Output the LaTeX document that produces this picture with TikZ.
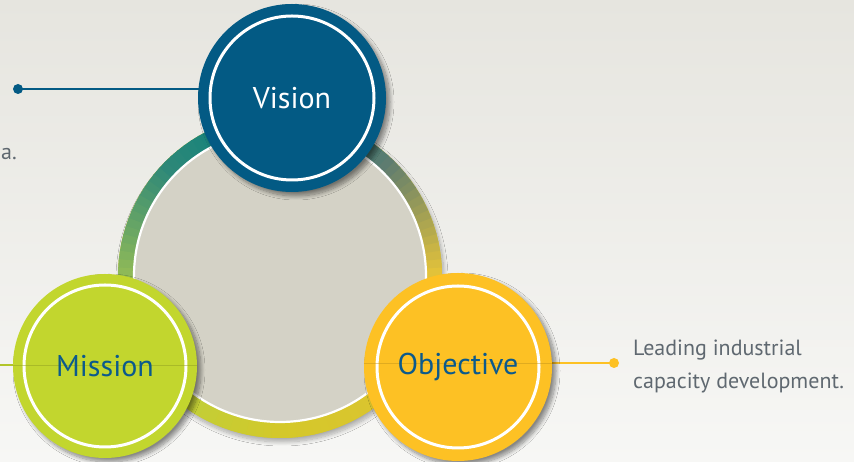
\documentclass[tikz,border=0pt]{standalone}
\usepackage{fontspec}
\setmainfont{PT Sans}
\usetikzlibrary{shadows.blur}
\definecolor{bgtop}{HTML}{E6E5DF}
\definecolor{bgbot}{HTML}{F7F7F5}
\definecolor{visionblue}{HTML}{035A84}
\definecolor{missiongreen}{HTML}{C2D62E}
\definecolor{objgold}{HTML}{FDC124}
\definecolor{hubgray}{HTML}{D4D2C6}
\definecolor{labelblue}{HTML}{0B5A8C}
\definecolor{bodygray}{HTML}{5F6870}
% ring colour stops, every 45 degrees
\definecolor{r0}{HTML}{E2C23A}
\definecolor{r45}{HTML}{5E7C70}
\definecolor{r90}{HTML}{007F7F}
\definecolor{r135}{HTML}{2E8878}
\definecolor{r180}{HTML}{94BC56}
\definecolor{r225}{HTML}{BDD03A}
\definecolor{r270}{HTML}{D4C82A}
\definecolor{r315}{HTML}{DCC430}
\tikzset{
  bubble/.style={circle, inner sep=0pt, minimum size=#1,
    blur shadow={shadow xshift=4pt, shadow yshift=-4pt, shadow blur radius=4pt, shadow blur steps=10, shadow opacity=45}},
  bubbletext/.style={font=\fontsize{30}{30}\selectfont},
  leader/.style={line width=2.2pt},
  leaderdot/.style={circle, inner sep=0pt, minimum size=10pt},
  bodytext/.style={font=\fontsize{22}{33}\selectfont, text=bodygray, inner sep=0pt}
}
\begin{document}
\begin{tikzpicture}[x=1pt,y=1pt]
  % page background
  \shade[top color=bgtop, bottom color=bgbot] (0,0) rectangle (854,462);
  \useasboundingbox (0,0) rectangle (854,462);

  % outer ring of the hub
  \coordinate (hubc) at (280,186);
  \fill[r270, blur shadow={shadow xshift=2pt, shadow yshift=-4pt, shadow blur radius=4pt, shadow blur steps=10, shadow opacity=30}]
    (hubc) circle (162);
  \begin{scope}[shift={(hubc)}]
    \foreach \s/\ca/\cb in {0/r0/r45, 45/r45/r90, 90/r90/r135, 135/r135/r180,
                            180/r180/r225, 225/r225/r270, 270/r270/r315, 315/r315/r0}{
      \foreach \i in {0,...,14}{
        \pgfmathtruncatemacro\p{100-\i*100/15}
        \pgfmathsetmacro\aa{\s+3*\i}
        \pgfmathsetmacro\bb{\s+3*\i+3.6}
        \fill[color=\ca!\p!\cb] (\aa:162) arc (\aa:\bb:162) -- (\bb:145) arc (\bb:\aa:145) -- cycle;
      }
    }
  \end{scope}
  \node[circle, fill=hubgray, draw=white, line width=2.2pt, minimum size=292pt, inner sep=0pt] (hub) at (hubc) {};

  % leader lines, drawn beneath the bubbles
  \node[leaderdot, fill=visionblue] (vdot) at (18,373) {};
  \coordinate (mend) at (0,97);
  \node[leaderdot, fill=objgold] (odot) at (614,99) {};

  \coordinate (visionc) at (292,364);
  \coordinate (missionc) at (105,96);
  \coordinate (objc) at (458,95);
  \draw[leader, visionblue] (vdot.center) -- (vdot.center -| visionc);
  \draw[leader, missiongreen!92!black] (mend) -- (mend -| missionc);
  \draw[leader, objgold] (odot.center) -- (odot.center -| objc);

  % bubbles
  \node[bubble=188pt, fill=visionblue] (vision) at (visionc) {};
  \node[bubble=184pt, fill=missiongreen] (mission) at (missionc) {};
  \node[bubble=188pt, fill=objgold] (objective) at (objc) {};

  \draw[white, line width=3pt] (vision.center) circle (82);
  \draw[white, line width=3pt] (mission.center) circle (81);
  \draw[white, line width=3pt] (objective.center) circle (81);

  % faint guide lines across the lower bubbles
  \draw[missiongreen!75!black, line width=0.6pt, opacity=0.5] (mission.west |- mend) -- (mission.east |- mend);
  \draw[objgold!75!black, line width=0.6pt, opacity=0.45] (objective.west |- odot) -- (objective.east |- odot);

  \node[bubbletext, text=white] (visionlabel) at (vision.center) {Vision};
  \node[bubbletext, text=labelblue] (missionlabel) at (mission.center) {Mission};
  \node[bubbletext, text=labelblue] (objlabel) at (objective.center) {Objective};

  % side texts
  \node[bodytext, anchor=base east] (lefttext) at (17,302) {a.};
  \node[bodytext, anchor=base west, align=left] (objtext) at (633,73) {Leading industrial\\capacity development.};
\end{tikzpicture}
\end{document}
